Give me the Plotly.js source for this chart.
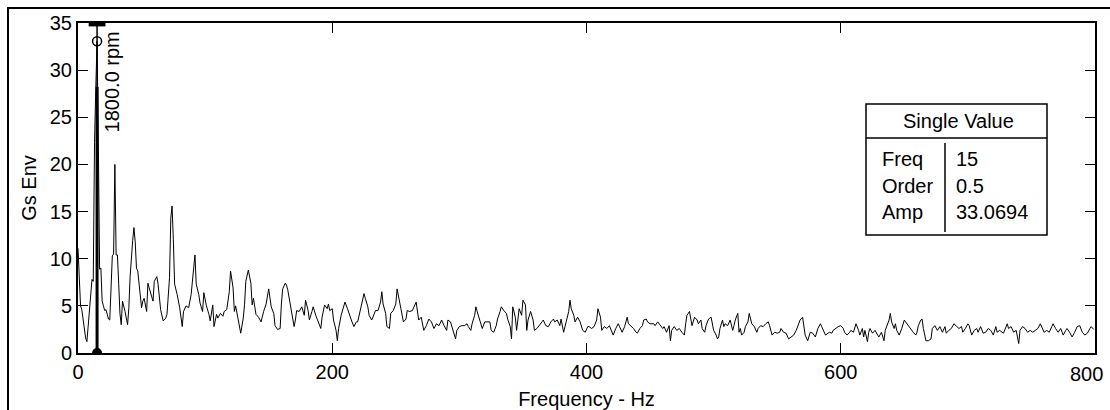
<!DOCTYPE html>
<html>
<head>
<meta charset="utf-8">
<script src="https://cdn.plot.ly/plotly-3.0.1.min.js"></script>
<style>
html,body{margin:0;padding:0;background:#fff;}
#wrap{position:relative;width:1110px;height:410px;overflow:hidden;}
#chart{position:absolute;left:0;top:0;width:1110px;height:410px;}
#frame{position:absolute;left:7px;top:7px;width:1200px;height:500px;border-left:2px solid #000;border-top:2px solid #000;pointer-events:none;}
</style>
</head>
<body>
<div id="wrap"><div id="chart"></div><div id="frame"></div></div>
<script>
// ---- data ----
const freqHz = [0,1,2,3,4,5,6,7,8,9,10,11,12,13,14,15,16,17,18,19,20,21,22,23,24,25,26,27,28,29,30,31,32,33,34,35,37,39,40,41,43,44,45,46,47,48,50,51,52,54,55,56,58,59,60,62,63,64,65,67,69,70,72,73,74,75,76,78,80,82,83,85,87,89,90,92,93,95,96,98,99,101,103,104,106,107,109,110,112,114,115,117,119,120,122,123,124,126,127,128,130,131,132,134,136,137,138,140,
142,144,146,148,150,151,152,154,155,157,159,160,161,163,164,165,167,168,170,171,172,174,176,178,179,181,182,184,185,187,189,191,192,194,196,197,198,200,201,203,204,205,207,209,210,212,213,215,217,219,220,222,224,225,226,228,229,231,232,234,236,238,239,240,242,243,245,246,248,250,251,253,254,256,258,259,261,263,265,266,268,270,272,274,
276,278,280,282,284,286,288,290,291,293,295,297,298,300,302,304,306,307,309,310,312,313,314,315,317,318,320,322,324,325,327,329,330,332,333,335,337,338,340,341,342,344,345,346,347,349,350,352,353,354,356,358,359,361,363,365,366,368,370,372,374,375,377,379,380,382,384,386,387,388,390,391,393,395,397,399,401,402,404,406,408,409,411,412,
414,416,418,420,421,423,425,426,428,430,432,433,435,437,439,440,442,444,445,447,448,450,453,454,456,458,460,461,463,465,466,467,469,471,473,475,477,478,479,481,482,483,485,487,488,490,491,493,494,496,498,499,500,502,503,504,505,507,508,509,511,513,515,516,517,519,520,521,522,524,525,527,528,530,532,534,535,537,539,541,543,544,546,548,550,
552,553,555,557,559,561,563,565,567,568,570,571,572,574,576,578,580,582,584,585,587,588,591,593,594,596,598,600,602,603,605,607,608,610,612,614,615,617,618,619,621,622,623,625,627,629,630,632,634,635,636,638,639,640,642,643,644,646,648,650,651,653,655,657,659,660,661,663,664,665,667,669,671,672,674,676,678,680,682,683,685,687,
689,691,693,695,696,698,700,701,703,705,707,708,710,712,714,716,718,720,722,723,725,728,729,731,732,734,736,738,740,741,743,745,747,749,751,753,755,757,758,760,762,764,766,767,769,771,773,775,777,778,780,782,784,786,788,790,792,794,796,797,799];

const gsEnv = [11.1,8.3,5.0,4.6,3.5,2.2,1.6,1.2,2.8,4.2,6.5,7.8,7.6,22.3,28.2,33.07,22.4,8.9,9.0,5.5,5.0,4.5,4.6,4.0,3.6,3.5,6.9,10.3,10.5,20.0,10.4,10.4,7.4,4.2,3.0,5.5,4.4,3.0,4.8,8.1,11.9,13.3,11.8,9.0,8.7,7.3,4.8,5.5,5.8,4.4,7.4,6.9,5.8,5.5,7.6,8.1,7.3,5.5,4.6,3.4,3.7,4.1,8.0,14.3,15.6,12.0,7.3,6.2,4.8,2.8,4.4,5.0,4.8,6.2,7.6,10.4,7.3,6.2,5.3,4.4,6.4,5.0,4.1,3.4,5.1,2.8,4.1,3.7,4.2,3.9,4.4,4.6,6.5,8.7,6.9,4.4,5.0,3.7,3.0,2.1,3.7,5.1,7.6,8.8,7.4,5.1,5.8,4.1,
3.8,3.3,4.4,5.2,6.8,5.9,4.9,4.2,2.9,2.5,2.6,5.2,6.8,7.4,7.2,6.7,5.2,4.7,2.8,3.5,4.5,4.4,4.9,4.0,5.6,4.5,3.5,4.4,4.9,4.0,3.3,2.6,3.8,5.1,4.7,5.2,4.5,4.7,3.5,2.4,1.3,2.6,4.0,4.9,5.4,4.7,4.2,3.5,2.8,3.3,3.3,4.4,5.8,6.3,5.8,4.9,4.0,3.5,3.8,4.5,4.5,5.4,6.5,5.2,4.2,2.8,2.6,4.2,4.5,5.2,6.8,5.1,4.7,3.3,3.6,4.5,4.4,4.5,5.1,5.4,3.5,3.8,2.4,2.9,
3.6,3.3,2.6,3.1,2.9,3.5,2.9,2.4,3.5,3.3,2.4,1.5,2.4,2.8,2.9,2.9,3.1,2.8,2.4,3.1,4.0,4.9,4.4,4.0,3.1,2.6,3.3,3.3,3.3,2.4,2.2,2.9,3.6,4.4,4.9,4.5,4.2,3.6,2.8,1.5,4.9,3.8,2.4,3.5,4.7,4.0,5.6,5.1,2.4,3.5,4.4,3.5,2.4,2.6,2.9,3.3,3.5,2.9,2.8,3.3,3.6,3.3,3.5,2.9,3.6,2.2,3.3,4.4,5.6,4.7,4.0,3.3,3.8,3.3,2.4,2.2,2.8,2.8,2.6,2.8,3.5,4.7,3.8,2.4,
2.8,2.6,2.9,2.2,1.9,2.6,3.1,2.8,2.2,2.8,3.8,3.1,2.9,2.6,2.2,2.1,2.6,2.9,3.5,3.6,3.3,3.1,3.1,2.9,3.3,2.9,2.6,2.8,2.2,2.9,1.3,2.4,2.8,2.4,2.6,2.2,1.9,3.1,4.0,4.4,3.5,2.9,3.8,3.5,3.1,3.5,2.6,2.2,2.9,3.6,3.8,3.1,2.4,1.9,1.5,1.7,2.6,3.5,2.8,3.1,2.9,3.5,2.4,2.9,3.5,4.2,2.2,2.6,1.9,2.2,2.8,3.3,4.2,3.1,2.8,2.2,2.6,2.9,2.8,3.1,3.3,2.9,1.9,2.2,2.1,
2.2,2.6,2.2,2.1,1.5,1.7,1.9,2.4,3.1,3.5,3.8,2.8,1.9,1.3,2.2,2.1,1.7,2.6,3.1,2.8,2.2,1.9,2.2,2.1,2.4,2.6,2.8,2.9,2.6,2.2,1.9,2.2,2.4,2.2,3.1,2.4,1.9,2.6,1.7,2.4,1.2,2.2,2.6,2.1,2.4,1.9,1.7,2.2,1.3,2.4,2.8,3.5,4.2,3.3,2.6,3.1,2.4,1.9,2.6,3.5,3.3,2.9,2.6,2.2,1.9,2.2,2.9,3.5,3.6,2.6,1.3,1.3,1.5,2.6,2.9,2.4,2.8,2.2,2.8,2.1,2.4,2.6,
3.1,2.9,2.6,2.8,2.2,2.6,3.1,2.9,1.9,2.4,2.6,2.2,2.8,2.1,2.2,2.6,2.4,1.9,2.8,2.2,2.4,2.1,2.4,3.1,2.6,2.8,2.2,2.4,1.0,2.4,2.8,2.6,2.2,2.4,2.2,2.4,2.6,3.1,2.8,2.2,2.4,2.2,2.8,3.1,2.6,2.2,2.6,1.9,2.4,2.6,2.2,1.7,2.2,2.8,2.9,2.2,1.9,2.1,2.6,2.8,2.5];

const xTicks = [0, 200, 400, 600, 800];
const yTicks = [0, 5, 10, 15, 20, 25, 30, 35];

// cursor readout
const cursorFreq = 15;
const cursorOrder = 0.5;
const cursorAmp = 33.0694;
const readoutLabels = ['Freq', 'Order', 'Amp'];
const readoutValues = [String(cursorFreq), String(cursorOrder), cursorAmp.toFixed(4)];
const readoutTitle = 'Single Value';
const rpmText = (cursorFreq / cursorOrder * 60).toFixed(1) + ' rpm';

// ---- layout helpers ----
const W = 1110, H = 410, ML = 78, MR = 15, MT = 23, MB = 57;
const PW = W - ML - MR, PH = H - MT - MB;
const px = v => (v - ML) / PW;
const py = v => 1 - (v - MT) / PH;
const FONT = '"Liberation Sans", Arial, sans-serif';
const FS = 20;

const traces = [
  {x: freqHz, y: gsEnv, type: 'scatter', mode: 'lines',
   line: {color: '#000', width: 1}, hoverinfo: 'skip'},
  {x: [cursorFreq, cursorFreq], y: [0, 35], mode: 'lines',
   line: {color: '#000', width: 1.5}, hoverinfo: 'skip'},
  {x: [cursorFreq, cursorFreq], y: [0, 28.2], mode: 'lines',
   line: {color: '#000', width: 3}, hoverinfo: 'skip'},
  {x: [cursorFreq], y: [cursorAmp], mode: 'markers',
   marker: {symbol: 'circle-open', size: 9, color: '#000', line: {width: 1.5, color: '#000'}}},
  {x: [cursorFreq], y: [0], mode: 'markers',
   marker: {symbol: 'circle', size: 10, color: '#000'}},
  {x: [cursorFreq], y: [34.85], mode: 'markers', cliponaxis: false,
   marker: {symbol: 'line-ew', size: 12, line: {width: 4, color: '#000'}}}
];

const boxL = 866, boxR = 1047, boxT = 104, boxB = 235, boxHead = 138, divX = 945;
const rowY = [159, 186, 212];
const lastX = xTicks[xTicks.length - 1];

const annotations = [
  {x: cursorFreq + 12, y: 34.3, xref: 'x', yref: 'y', text: rpmText, textangle: -90,
   showarrow: false, xanchor: 'center', yanchor: 'top', font: {family: FONT, size: FS, color: '#000'}},
  {x: px((boxL + boxR) / 2 + 2), y: py(121), xref: 'paper', yref: 'paper', text: readoutTitle,
   showarrow: false, xanchor: 'center', yanchor: 'middle', font: {family: FONT, size: FS, color: '#000'}},
  // last x tick label kept inside the picture, as in the reference
  {x: lastX, y: 0, xref: 'x', yref: 'y', text: String(lastX), showarrow: false,
   xanchor: 'right', yanchor: 'top', xshift: 10, yshift: -8,
   font: {family: FONT, size: FS, color: '#000'}}
];
readoutLabels.forEach((t, i) => {
  annotations.push({x: px(880), y: py(rowY[i]), xref: 'paper', yref: 'paper', text: t,
    showarrow: false, xanchor: 'left', yanchor: 'middle', font: {family: FONT, size: FS, color: '#000'}});
  annotations.push({x: px(954), y: py(rowY[i]), xref: 'paper', yref: 'paper', text: readoutValues[i],
    showarrow: false, xanchor: 'left', yanchor: 'middle', font: {family: FONT, size: FS, color: '#000'}});
});

const shapes = [
  {type: 'rect', xref: 'paper', yref: 'paper', x0: px(boxL), x1: px(boxR), y0: py(boxB), y1: py(boxT),
   line: {color: '#000', width: 1.5}, fillcolor: '#fff', layer: 'above'},
  {type: 'line', xref: 'paper', yref: 'paper', x0: px(boxL), x1: px(boxR), y0: py(boxHead), y1: py(boxHead),
   line: {color: '#000', width: 1.5}, layer: 'above'},
  {type: 'line', xref: 'paper', yref: 'paper', x0: px(divX), x1: px(divX), y0: py(143), y1: py(232),
   line: {color: '#000', width: 1.5}, layer: 'above'}
];

const axisCommon = {
  showline: true, linecolor: '#000', linewidth: 2, mirror: 'ticks',
  ticks: 'inside', ticklen: 10, tickwidth: 1, tickcolor: '#000',
  showgrid: false, zeroline: false, fixedrange: true,
  tickfont: {family: FONT, size: FS, color: '#000'}
};

const layout = {
  width: W, height: H,
  margin: {l: ML, r: MR, t: MT, b: MB, pad: 0},
  paper_bgcolor: '#fff', plot_bgcolor: '#fff',
  showlegend: false,
  font: {family: FONT, size: FS, color: '#000'},
  xaxis: Object.assign({}, axisCommon, {
    range: [0, 800], tickmode: 'array', tickvals: xTicks,
    ticktext: xTicks.map(v => v === lastX ? ' ' : String(v)),
    title: {text: 'Frequency - Hz', font: {family: FONT, size: FS, color: '#000'}, standoff: 12}
  }),
  yaxis: Object.assign({}, axisCommon, {
    range: [0, 35], tickmode: 'array', tickvals: yTicks, ticktext: yTicks.map(String),
    title: {text: 'Gs Env', font: {family: FONT, size: FS, color: '#000'}, standoff: 8}
  }),
  annotations: annotations,
  shapes: shapes
};

Plotly.newPlot('chart', traces, layout, {staticPlot: true, displayModeBar: false});
</script>
</body>
</html>
